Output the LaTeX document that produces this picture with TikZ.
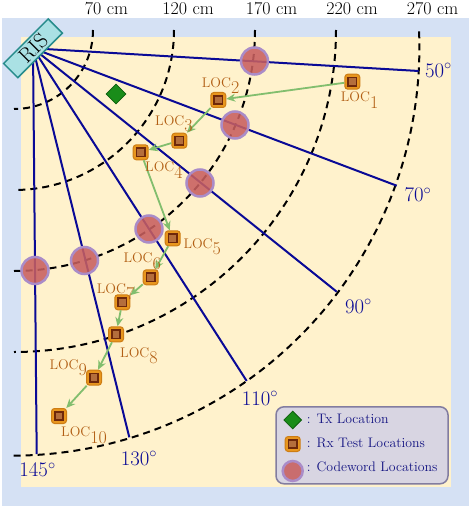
\documentclass[tikz,border=0pt]{standalone}
\usetikzlibrary{shapes.geometric,arrows.meta}
\definecolor{bgblue}{RGB}{213,225,244}
\definecolor{cream}{RGB}{255,242,204}
\definecolor{raycol}{RGB}{10,10,150}
\definecolor{locc}{RGB}{178,95,20}
\definecolor{arrowg}{RGB}{130,190,110}
\definecolor{orfill}{RGB}{232,150,30}
\definecolor{ordraw}{RGB}{205,125,20}
\definecolor{inbrown}{RGB}{180,110,60}
\definecolor{inbrowndraw}{RGB}{110,40,10}
\definecolor{cwfill}{RGB}{200,95,95}
\definecolor{cwdraw}{RGB}{170,140,200}
\definecolor{txg}{RGB}{25,140,25}
\definecolor{txgd}{RGB}{15,95,15}
\definecolor{risfill}{RGB}{170,225,228}
\definecolor{risdraw}{RGB}{40,140,140}
\definecolor{legfill}{RGB}{216,213,226}
\definecolor{legdraw}{RGB}{130,125,160}
\definecolor{legtext}{RGB}{20,20,130}
\newcommand{\locl}[1]{{\fontsize{14}{14}\selectfont LOC}\raisebox{-6.5pt}{\fontsize{18}{18}\selectfont #1}}
\tikzset{
  rxmark/.style={rectangle, rounded corners=3pt, minimum size=15pt, inner sep=0pt,
    fill=orfill, draw=ordraw, line width=1pt,
    path picture={\draw[inbrowndraw, fill=inbrown, line width=1.6pt, sharp corners]
      ([shift={(-4.2pt,-4.2pt)}]path picture bounding box.center) rectangle
      ([shift={(4.2pt,4.2pt)}]path picture bounding box.center);}},
  cwmark/.style={circle, minimum size=27pt, inner sep=0pt, fill=cwfill, fill opacity=0.88,
    draw=cwdraw, draw opacity=1, line width=2.5pt},
  txmark/.style={diamond, aspect=1, minimum size=20pt, inner sep=0pt, fill=txg, draw=txgd, line width=0.8pt},
  risbox/.style={rectangle, rotate=45, minimum width=63pt, minimum height=20pt, inner sep=0pt,
    fill=risfill, draw=risdraw, line width=1.5pt, font=\fontsize{21}{21}\selectfont},
  arr/.style={draw=arrowg, line width=1.8pt, -{Stealth[length=9pt,width=8pt]}},
  raystyle/.style={draw=raycol, line width=2pt},
  arcst/.style={draw=black, line width=2pt, dash pattern=on 7pt off 5pt},
  loclab/.style={anchor=base west, inner sep=0pt, text=locc},
  anglab/.style={anchor=base west, inner sep=0pt, text=raycol, font=\fontsize{21}{21}\selectfont},
  toplab/.style={anchor=base, inner sep=0pt, font=\fontsize{18}{18}\selectfont},
  legtxt/.style={anchor=base west, inner sep=0pt, text=legtext, font=\fontsize{13.8}{14}\selectfont}
}
\begin{document}
\begin{tikzpicture}[x=1pt,y=-1pt]
\useasboundingbox (0,0) rectangle (470,508);
\fill[white] (0,0) rectangle (470,508);
\fill[bgblue] (2,18) rectangle (469,506);
\fill[cream] (21,37) rectangle (451,487);

% distance arcs
\draw[arcst] (14,30) ++(0:79) arc[start angle=0, end angle=90, radius=79];
\draw[arcst] (14,30) ++(0:160) arc[start angle=0, end angle=90, radius=160];
\draw[arcst] (14,30) ++(0:241) arc[start angle=0, end angle=90, radius=241];
\draw[arcst] (14,30) ++(0:322) arc[start angle=0, end angle=90, radius=322];
\draw[arcst] (11.4,47.7) ++(-2.3:408) arc[start angle=-2.3, end angle=89.8, radius=408];

% rays
\coordinate (O) at (33,48.3);
\coordinate (e50) at (418.7,71);
\coordinate (e70) at (396.7,185.7);
\coordinate (e90) at (336.7,291.7);
\coordinate (e110) at (246.7,381);
\coordinate (e130) at (129.3,437.3);
\coordinate (e145) at (36.7,454);
\foreach \e in {e50,e70,e90,e110,e130,e145} \draw[raystyle] (O) -- (\e);

% codeword locations
\node[cwmark] (c1) at (254.5,61) {};
\node[cwmark] (c2) at (235,125) {};
\node[cwmark] (c3) at (200,183) {};
\node[cwmark] (c4) at (149,229) {};
\node[cwmark] (c5) at (84.5,260.5) {};
\node[cwmark] (c6) at (35,270.5) {};

% Tx
\node[txmark] (tx) at (116,94) {};

% Rx test locations
\node[rxmark] (L1) at (352.3,81.7) {};
\node[rxmark] (L2) at (218.3,100) {};
\node[rxmark] (L3) at (179.3,140.7) {};
\node[rxmark] (L4) at (140.7,152.3) {};
\node[rxmark] (L5) at (172.7,238.3) {};
\node[rxmark] (L6) at (150.7,277.3) {};
\node[rxmark] (L7) at (122.3,302.3) {};
\node[rxmark] (L8) at (116,334.3) {};
\node[rxmark] (L9) at (94,377.7) {};
\node[rxmark] (L10) at (59,416) {};

\draw[arr] (L1) -- (L2);
\draw[arr] (L2) -- (L3);
\draw[arr] (L3) -- (L4);
\draw[arr] (L4) -- (L5);
\draw[arr] (L5) -- (L6);
\draw[arr] (L6) -- (L7);
\draw[arr] (L7) -- (L8);
\draw[arr] (L8) -- (L9);
\draw[arr] (L9) -- (L10);

% LOC labels
\node[loclab] (t1) at (340.7,101.7) {\locl{1}};
\node[loclab] (t2) at (201.7,87.5) {\locl{2}};
\node[loclab] (t3) at (155,125) {\locl{3}};
\node[loclab] (t4) at (145,171.7) {\locl{4}};
\node[loclab] (t5) at (183.3,248.3) {\locl{5}};
\node[loclab] (t6) at (123.3,262.7) {\locl{6}};
\node[loclab] (t7) at (96.7,293.3) {\locl{7}};
\node[loclab] (t8) at (120,357.3) {\locl{8}};
\node[loclab] (t9) at (49.3,369.3) {\locl{9}};
\node[loclab] (t10) at (61,436.7) {\locl{10}};

% angle labels
\node[anglab] (a50) at (425,77.3) {$50^\circ$};
\node[anglab] (a70) at (404.3,201.7) {$70^\circ$};
\node[anglab] (a90) at (345,313.3) {$90^\circ$};
\node[anglab] (a110) at (241.7,405) {$110^\circ$};
\node[anglab] (a130) at (120.7,465) {$130^\circ$};
\node[anglab] (a145) at (19.3,476.7) {$145^\circ$};

% distance labels
\node[toplab] (d70) at (106.5,15) {70 cm};
\node[toplab] (d120) at (188,15) {120 cm};
\node[toplab] (d170) at (271.5,15) {170 cm};
\node[toplab] (d220) at (352,15) {220 cm};
\node[toplab] (d270) at (432.5,15) {270 cm};

% RIS
\node[risbox] (ris) at (O) {RIS};

% legend
\node[draw=legdraw, fill=legfill, rounded corners=8pt, line width=1.5pt,
      minimum width=172pt, minimum height=77pt, inner sep=0pt] (legend) at (362,445.3) {};
\node[txmark, minimum size=18pt] (lgtx) at (292.7,420) {};
\node[rxmark] (lgrx) at (292.7,444) {};
\node[cwmark, minimum size=20pt] (lgcw) at (292.7,471) {};
\node[legtxt] (lgt1) at (306.7,423) {: Tx Location};
\node[legtxt] (lgt2) at (306.7,447.3) {: Rx Test Locations};
\node[legtxt] (lgt3) at (306.7,471.5) {: Codeword Locations};
\end{tikzpicture}
\end{document}
